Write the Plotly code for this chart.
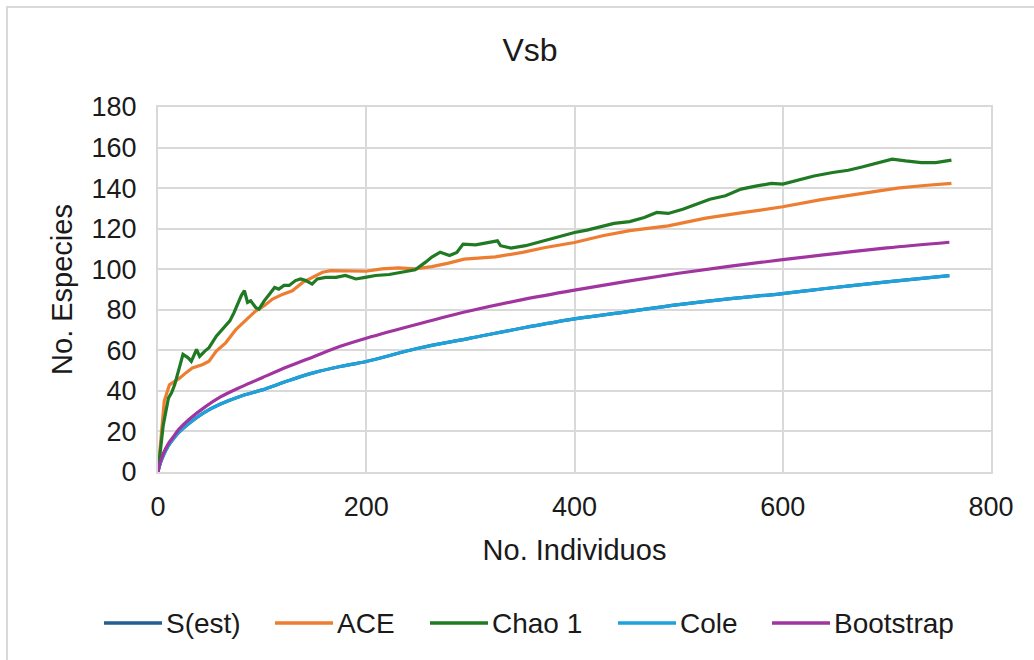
import plotly.graph_objects as go

# Sample sizes (individuals) and accumulated species estimates
x_smooth = [0, 2, 5, 10, 15, 20, 30, 45, 60, 80, 100, 125, 150, 175, 200, 250, 300,
            350, 400, 450, 500, 550, 600, 650, 700, 760]
s_est = [0, 4, 8, 13, 16.5, 19.5, 24, 29.5, 33.5, 37.5, 40.5, 45, 49, 52, 54.5, 61,
         66, 71, 75.5, 79, 82.5, 85.5, 88, 91, 93.8, 96.8]
cole = [0, 4, 8, 13, 16.5, 19.5, 24, 29.5, 33.5, 37.5, 40.5, 45, 49, 52, 54.5, 61,
        66, 71, 75.5, 79, 82.5, 85.5, 88, 91, 93.8, 96.8]
bootstrap = [0, 4.5, 9, 14, 17.5, 21, 26, 32, 37, 42, 46.5, 52, 57, 62, 66, 73,
             79.5, 85, 89.7, 94, 98, 101.5, 104.7, 107.7, 110.5, 113.3]

x_ace = [0, 6, 11, 14, 21, 27, 33, 43, 49, 56, 65, 75, 84, 94, 102, 110, 120, 129,
         139, 148, 158, 166, 177, 190, 200, 215, 231, 247, 263, 279, 294, 324, 350,
         372, 400, 427, 453, 490, 526, 563, 600, 637, 674, 710, 736, 762]
ace = [0, 35, 43, 44, 46.4, 49, 51.3, 53, 54.6, 59.6, 63.7, 70.4, 74.5, 79.5, 82,
       85.3, 87.7, 89.4, 93.5, 96, 98.5, 99.3, 99.3, 99.3, 99, 100.2, 100.7, 100.2,
       101.3, 103, 105, 106.1, 108.3, 110.7, 113.2, 116.5, 119, 121.4, 125.2, 128,
       130.8, 134.3, 137, 140, 141.3, 142.3]

x_chao = [0, 5, 10, 13, 16, 21, 24, 29, 32, 37, 40, 45, 49, 56, 62, 69, 73, 77, 80,
          83, 86, 89, 94, 97, 102, 107, 112, 116, 121, 126, 132, 137, 142, 148, 153,
          161, 171, 180, 190, 199, 209, 222, 235, 244, 247, 257, 263, 271, 280, 287,
          293, 305, 316, 326, 329, 339, 353, 368, 383, 400, 412, 423, 438, 453, 467,
          479, 490, 504, 519, 530, 545, 560, 574, 589, 600, 615, 630, 648, 663, 677,
          692, 705, 718, 733, 747, 762]
chao1 = [0, 23, 36.4, 39, 43, 53, 58, 56.3, 54.6, 60.4, 57, 59.6, 61.3, 67, 70.4,
         74.5, 78.6, 83.6, 87, 89.4, 83.6, 84.4, 81, 80.3, 84.4, 87.7, 91, 90.2, 92,
         92, 94.4, 95.2, 94.4, 92.7, 95.2, 96, 96, 96.9, 95.2, 96, 96.9, 97.4, 98.5,
         99.3, 99.7, 103.5, 106, 108.4, 106.8, 108.3, 112.4, 112, 113.2, 114, 111.6,
         110.4, 111.6, 113.7, 116, 118.1, 119.3, 120.6, 122.6, 123.5, 125.5, 128,
         127.5, 129.6, 132.4, 134.5, 136.2, 139.5, 141, 142.3, 142, 143.9, 146, 147.7,
         148.8, 150.5, 152.6, 154.3, 153.4, 152.6, 152.6, 153.8]

FONT = "Liberation Sans, Arial, sans-serif"
INK = "#1a1a1a"
GRID = "#d9d9d9"
W, H = 1034, 660
L, R, T, B = 158, 43, 107, 188

series = [
    ("S(est)", x_smooth, s_est, "#255e91", "spline"),
    ("ACE", x_ace, ace, "#ed7d31", "linear"),
    ("Chao 1", x_chao, chao1, "#1f7a23", "linear"),
    ("Cole", x_smooth, cole, "#1ea2dc", "spline"),
    ("Bootstrap", x_smooth, bootstrap, "#a0359f", "spline"),
]

pw = W - L - R
ph = H - T - B


def px_to_paper_x(px):
    return (px - L) / pw


def px_to_paper_y(py):
    return (H - B - py) / ph


fig = go.Figure()
for name, xs, ys, color, shape in series:
    fig.add_trace(go.Scatter(
        x=xs, y=ys, name=name, mode="lines", showlegend=False,
        line=dict(color=color, width=3.2, shape=shape),
    ))

# Legend row drawn below the axis title: a line key followed by its label
legend_y = px_to_paper_y(623)
key_left = [104, 275, 430, 618, 772]
key_len = 58
shapes = [dict(type="rect", xref="paper", yref="paper", layer="below",
               x0=px_to_paper_x(7), x1=px_to_paper_x(W + 20),
               y0=px_to_paper_y(H + 20), y1=px_to_paper_y(7),
               line=dict(color=GRID, width=2), fillcolor="rgba(0,0,0,0)")]
annotations = []
for (name, _, _, color, _), kx in zip(series, key_left):
    shapes.append(dict(type="line", xref="paper", yref="paper",
                       x0=px_to_paper_x(kx), x1=px_to_paper_x(kx + key_len),
                       y0=legend_y, y1=legend_y,
                       line=dict(color=color, width=3.5)))
    annotations.append(dict(text=name, xref="paper", yref="paper",
                            x=px_to_paper_x(kx + key_len + 2), y=legend_y,
                            xanchor="left", yanchor="middle", showarrow=False,
                            font=dict(size=28, family=FONT, color=INK)))

fig.update_layout(
    width=W, height=H,
    margin=dict(l=L, r=R, t=T, b=B, autoexpand=False),
    paper_bgcolor="white", plot_bgcolor="white",
    font=dict(family=FONT, color=INK, size=27),
    title=dict(text="Vsb", x=530 / W, xref="container", xanchor="center",
               y=1 - 50 / H, yref="container", yanchor="middle",
               font=dict(size=32, family=FONT, color=INK)),
    showlegend=False,
    xaxis=dict(range=[0, 800], dtick=200, showgrid=True, gridcolor=GRID, gridwidth=2,
               zeroline=False, showline=True, linecolor=GRID, linewidth=2, mirror=True,
               ticks="", ticklabelstandoff=10, tickfont=dict(size=27),
               title=dict(text="No. Individuos", font=dict(size=29), standoff=18)),
    yaxis=dict(range=[0, 180], dtick=20, showgrid=True, gridcolor=GRID, gridwidth=2,
               zeroline=False, showline=True, linecolor=GRID, linewidth=2, mirror=True,
               ticks="", ticklabelstandoff=14, tickfont=dict(size=27),
               title=dict(text="No. Especies", font=dict(size=29), standoff=10)),
    shapes=shapes,
    annotations=annotations,
)

fig.write_html("out.html")
